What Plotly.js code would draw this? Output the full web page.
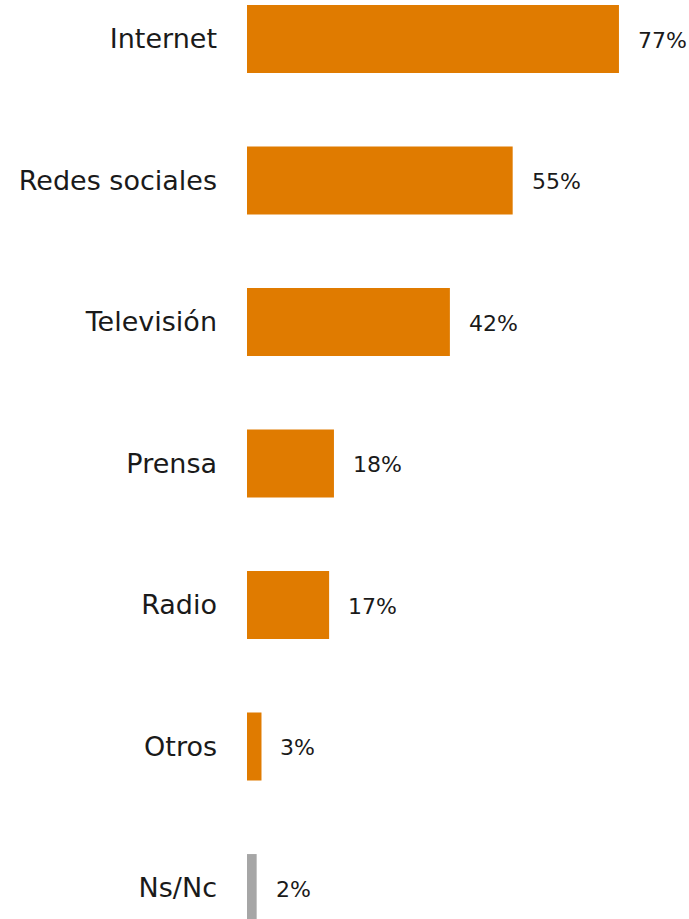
<!DOCTYPE html>
<html>
<head>
<meta charset="utf-8">
<script src="https://cdn.plot.ly/plotly-3.0.1.min.js"></script>
<style>html,body{margin:0;padding:0;background:#fff;}#chart{width:689px;height:919px;}</style>
</head>
<body>
<div id="chart"></div>
<script>
const categories = ["Internet", "Redes sociales", "Televisión", "Prensa", "Radio", "Otros", "Ns/Nc"];
const values = [77, 55, 42, 18, 17, 3, 2];
const labels = ["77%", "55%", "42%", "18%", "17%", "3%", "2%"];
const barColors = ["#E07B00", "#E07B00", "#E07B00", "#E07B00", "#E07B00", "#E07B00", "#A6A6A6"];

const trace = {
  type: "bar",
  orientation: "h",
  x: values,
  y: categories,
  marker: { color: barColors },
  width: 0.48,
  hoverinfo: "none"
};

const annotations = categories.map((c, i) => ({
  x: values[i], y: c, xref: "x", yref: "y",
  text: labels[i], showarrow: false, xanchor: "left", xshift: 17, yshift: -1,
  font: { family: "DejaVu Sans", size: 22, color: "#1a1a1a" }
}));

const layout = {
  width: 689, height: 919,
  margin: { l: 247, r: 0, t: 0, b: 0, pad: 0 },
  paper_bgcolor: "#ffffff", plot_bgcolor: "#ffffff",
  showlegend: false,
  xaxis: { range: [0, 91.5], visible: false, fixedrange: true },
  yaxis: {
    type: "category",
    range: [6.219, -0.2756],
    showgrid: false, zeroline: false, showline: false,
    ticks: "", ticklabelstandoff: 29,
    tickfont: { family: "DejaVu Sans", size: 27, color: "#1a1a1a" }
  },
  annotations: annotations
};

Plotly.newPlot("chart", [trace], layout, { staticPlot: true, displayModeBar: false });
</script>
</body>
</html>
